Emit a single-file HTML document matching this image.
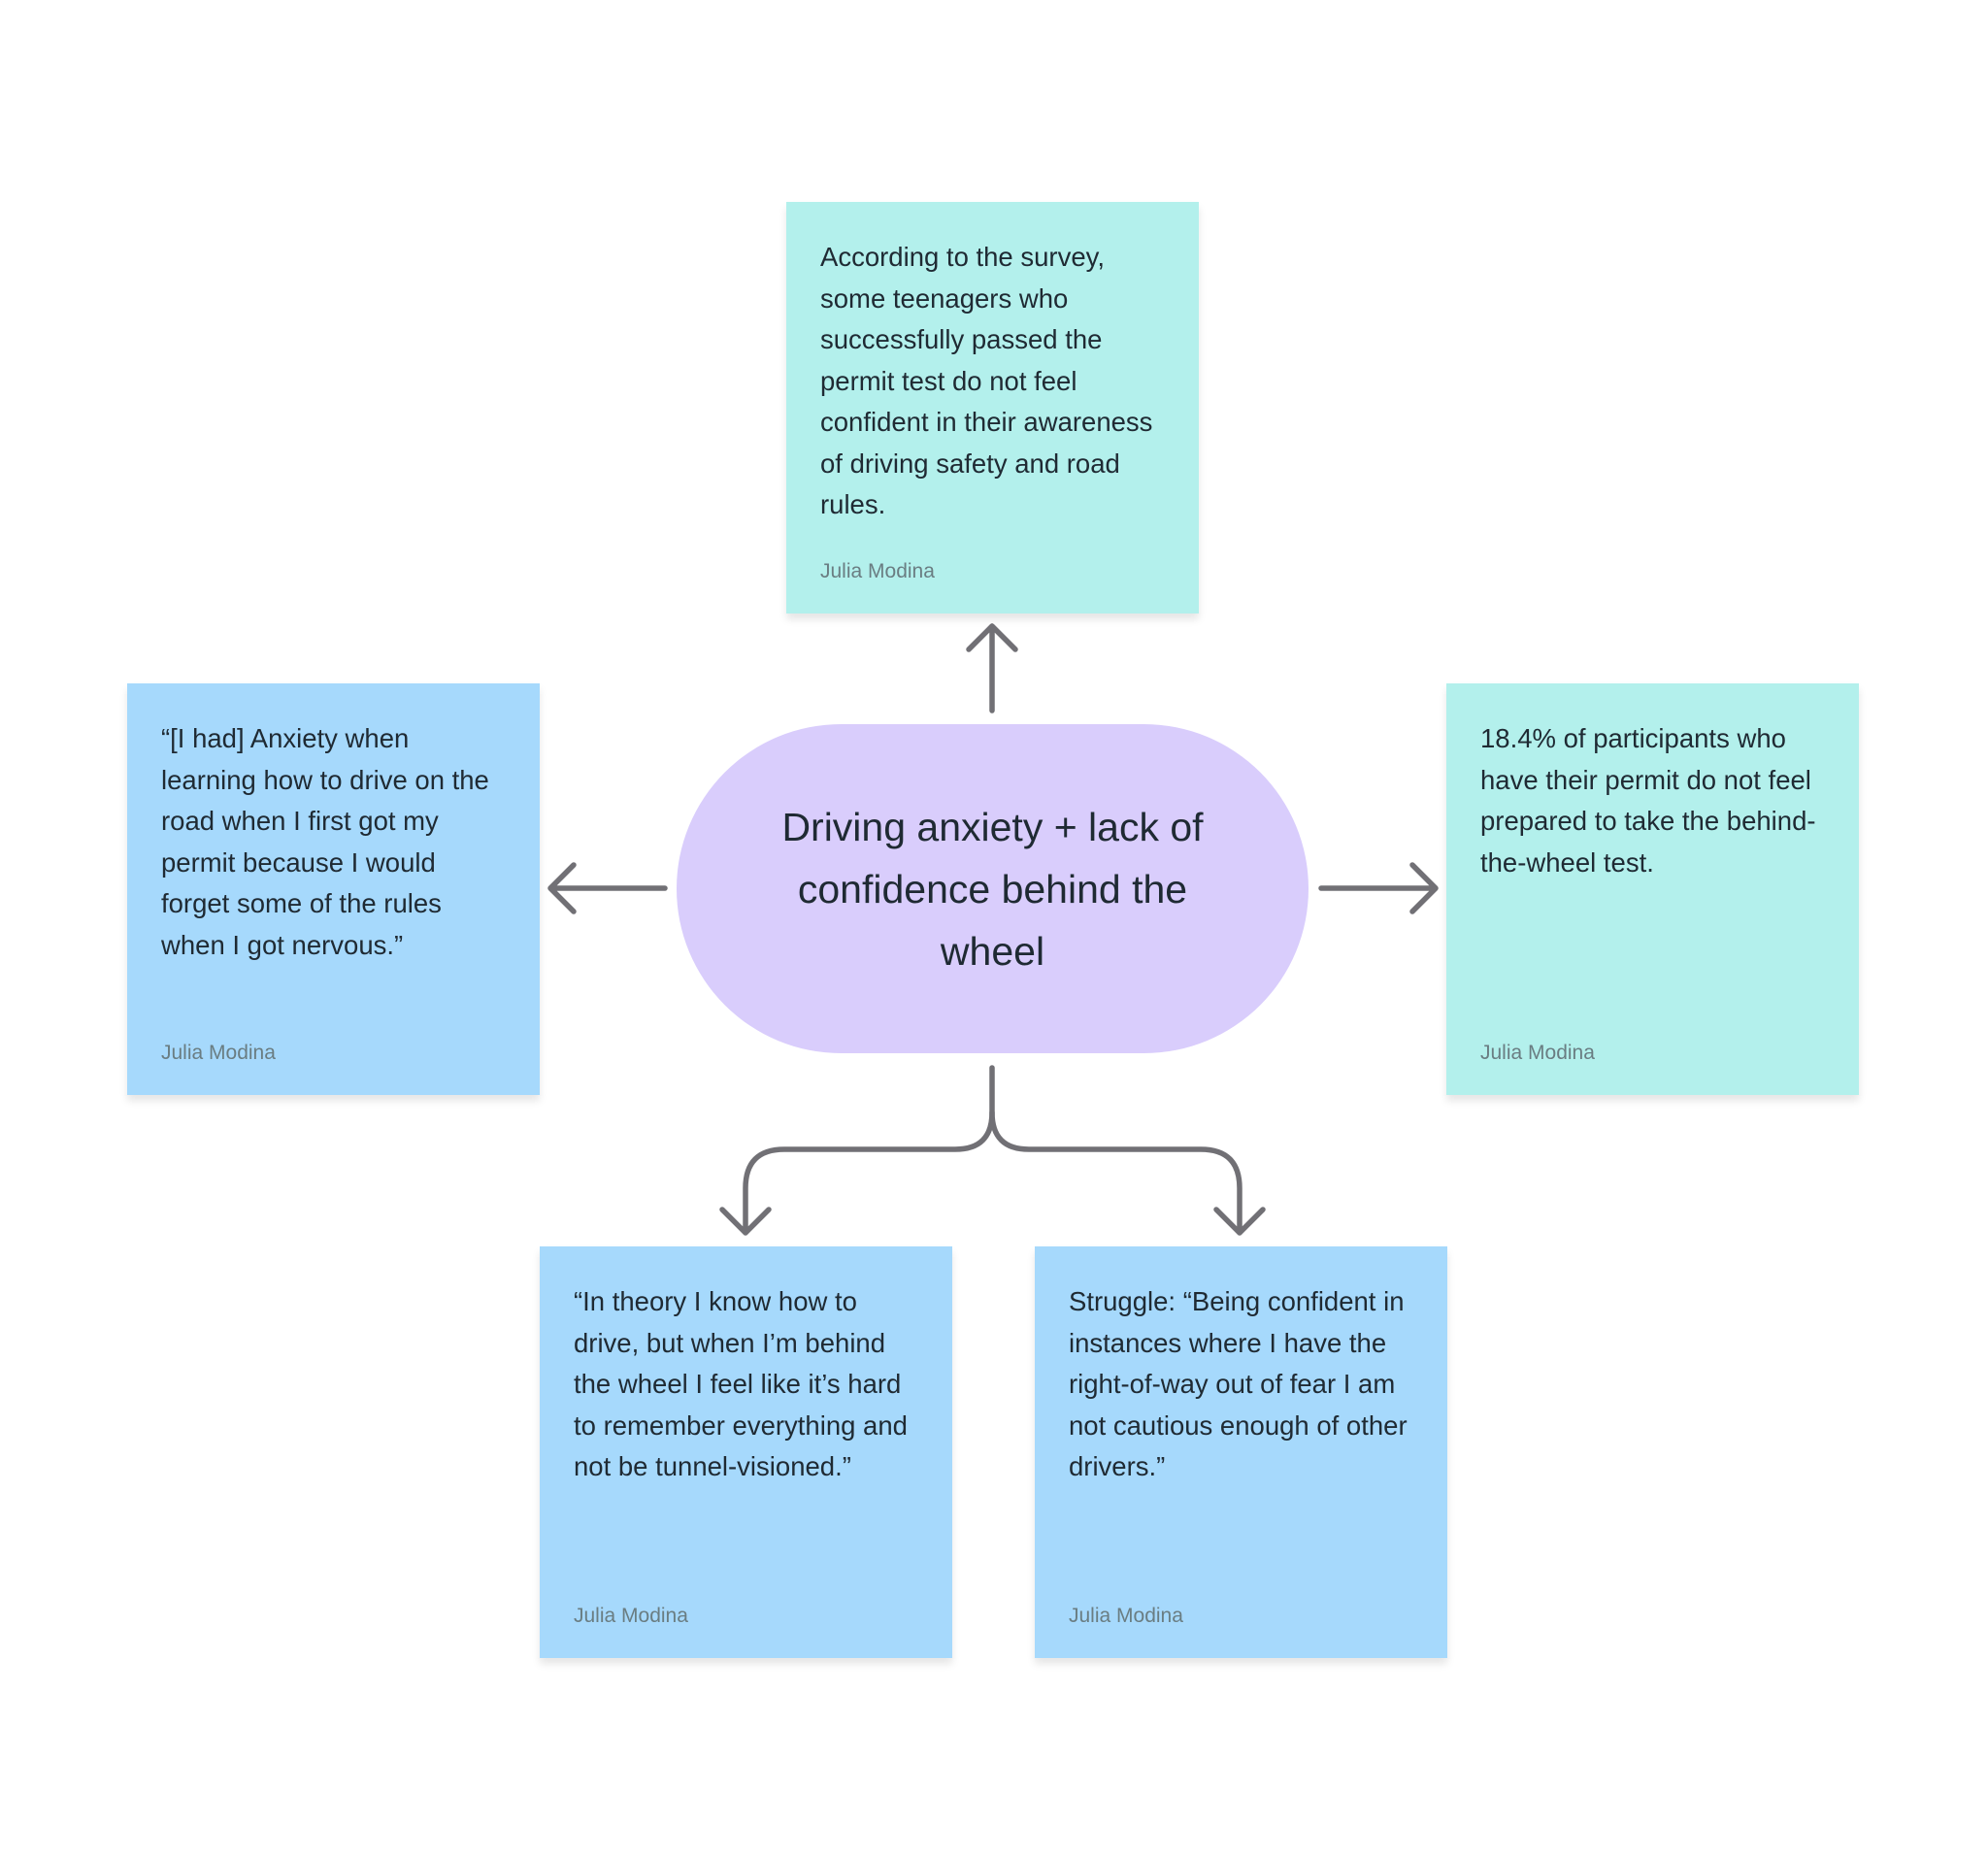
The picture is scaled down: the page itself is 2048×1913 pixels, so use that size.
<!DOCTYPE html>
<html><head><meta charset="utf-8"><style>
body{margin:0;width:2048px;height:1913px;background:#fff;position:relative;font-family:"Liberation Sans",sans-serif;overflow:hidden}
.card{position:absolute;width:425px;height:424px;box-shadow:0 6px 8px rgba(0,0,0,0.10);box-sizing:border-box;padding:36px 30px 0 35px;color:#1f2a33;font-size:27.5px;line-height:42.5px}
.a{position:absolute;left:35px;font-size:21px;color:#6a7d82}
.t{background:#b3f0ec}.b{background:#a6d9fc}
.pill{position:absolute;left:697px;top:746px;width:651px;height:339px;border-radius:170px;background:#d9cdfc;display:flex;align-items:center;justify-content:center;text-align:center;font-size:41px;line-height:64px;color:#1f2a33}
</style></head><body>
<div class="card t" style="left:810px;top:208px">According to the survey, some teenagers who successfully passed the permit test do not feel confident in their awareness of driving safety and road rules.<div class="a" style="top:360px">Julia Modina</div></div>
<div class="card b" style="left:131px;top:704px">“[I had] Anxiety when learning how to drive on the road when I first got my permit because I would forget some of the rules when I got nervous.”<div class="a" style="top:360px">Julia Modina</div></div>
<div class="card t" style="left:1490px;top:704px">18.4% of participants who have their permit do not feel prepared to take the behind-the-wheel test.<div class="a" style="top:360px">Julia Modina</div></div>
<div class="card b" style="left:556px;top:1284px">“In theory I know how to drive, but when I’m behind the wheel I feel like it’s hard to remember everything and not be tunnel-visioned.”<div class="a" style="top:360px">Julia Modina</div></div>
<div class="card b" style="left:1066px;top:1284px">Struggle: “Being confident in instances where I have the right-of-way out of fear I am not cautious enough of other drivers.”<div class="a" style="top:360px">Julia Modina</div></div>
<div class="pill"><div>Driving anxiety + lack of<br>confidence behind the<br>wheel</div></div>
<svg width="2048" height="1913" style="position:absolute;left:0;top:0" fill="none" stroke="#717075" stroke-width="5.5" stroke-linecap="round" stroke-linejoin="round">
<path d="M1022 732V645M998 669L1022 645L1046 669"/>
<path d="M685 915H567M591 891L567 915L591 939"/>
<path d="M1361 915H1479M1455 891L1479 915L1455 939"/>
<path d="M1022 1100V1146Q1022 1184 984 1184H808Q768 1184 768 1224V1270M744 1246L768 1270L792 1246"/>
<path d="M1022 1146Q1022 1184 1060 1184H1237Q1277 1184 1277 1224V1270M1253 1246L1277 1270L1301 1246"/>
</svg>
</body></html>
